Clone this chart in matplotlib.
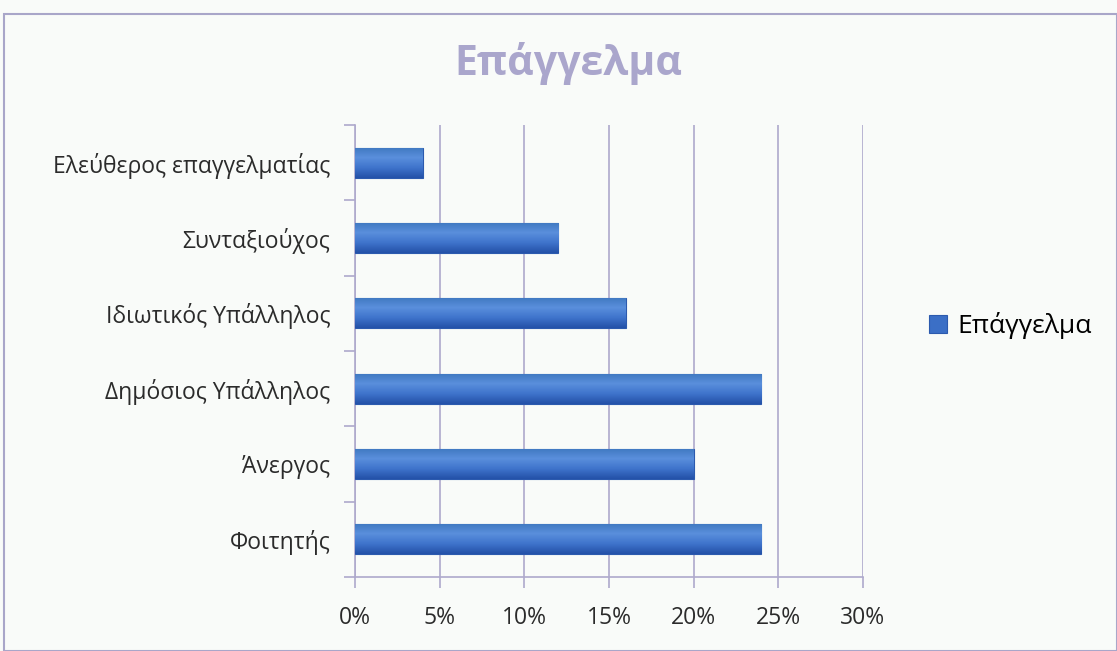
import numpy as np
import matplotlib.pyplot as plt
from matplotlib.patches import Rectangle
from matplotlib.colors import LinearSegmentedColormap
from matplotlib.ticker import FuncFormatter, FixedLocator

plt.rcParams['font.family'] = ['Open Sans', 'Noto Sans', 'DejaVu Sans']

categories = ['Φοιτητής', 'Άνεργος', 'Δημόσιος Υπάλληλος',
              'Ιδιωτικός Υπάλληλος', 'Συνταξιούχος', 'Ελεύθερος επαγγελματίας']
values = [24, 20, 24, 16, 12, 4]
series_name = 'Επάγγελμα'
x_ticks = [0, 5, 10, 15, 20, 25, 30]

grid_col = '#aea9cc'
bg = '#f9fbf9'
fig = plt.figure(figsize=(11.17, 6.51), dpi=100, facecolor=bg)
fig.patches.append(Rectangle((0.004, 0.0), 0.996, 0.979, transform=fig.transFigure,
                             fill=False, edgecolor='#a9a6c9', lw=1.5))

ax = fig.add_axes([0.318, 0.1137, 0.4545, 0.694])
ax.set_facecolor(bg)
ypos = list(range(len(categories)))
bars = ax.barh(ypos, values, height=0.4, color='#3b6fc6', edgecolor='#2c5aae',
               lw=0.8, label=series_name, zorder=3)

# vertical gradient on each bar
grad = LinearSegmentedColormap.from_list('g', ['#2451a8', '#3f74cc', '#5a8fdc', '#3f78c0'])
g = np.linspace(0, 1, 64).reshape(-1, 1)
for b in bars:
    x0, y0 = b.get_x(), b.get_y()
    im = ax.imshow(g, cmap=grad, aspect='auto', origin='lower',
                   extent=[x0, x0 + b.get_width(), y0, y0 + b.get_height()], zorder=3.5)
    im.set_clip_path(b)

ax.set_xlim(0, 30)
ax.set_ylim(-0.5, len(categories) - 0.5)
ax.set_xticks(x_ticks)
ax.xaxis.set_major_formatter(FuncFormatter(lambda v, p: f'{int(v)}%'))
ax.set_yticks(ypos)
ax.set_yticklabels(categories)
ax.yaxis.set_minor_locator(FixedLocator([i - 0.5 for i in range(len(categories) + 1)]))
ax.tick_params(axis='y', which='major', length=0, pad=18, labelsize=16.5, labelcolor='#2b2b2b')
ax.tick_params(axis='y', which='minor', length=8, color=grid_col, width=1.2)
ax.tick_params(axis='x', length=8, color=grid_col, width=1.2, pad=13, labelsize=16.5,
               labelcolor='#2b2b2b')
ax.grid(axis='x', color=grid_col, lw=1.2, zorder=0)
for s in ['top', 'right']:
    ax.spines[s].set_visible(False)
for s in ['left', 'bottom']:
    ax.spines[s].set_color(grid_col)
    ax.spines[s].set_linewidth(1.2)

fig.text(0.509, 0.902, 'Επάγγελμα', ha='center', va='center', fontsize=29.5,
         fontweight='bold', color='#aaa6cc')

fig.legend(handles=[bars], labels=[series_name], loc='center left',
           bbox_to_anchor=(0.81, 0.5), frameon=False, fontsize=19,
           handlelength=0.7, handleheight=0.7, handletextpad=0.4)

fig.savefig('out.png', dpi=100, facecolor=fig.get_facecolor())
